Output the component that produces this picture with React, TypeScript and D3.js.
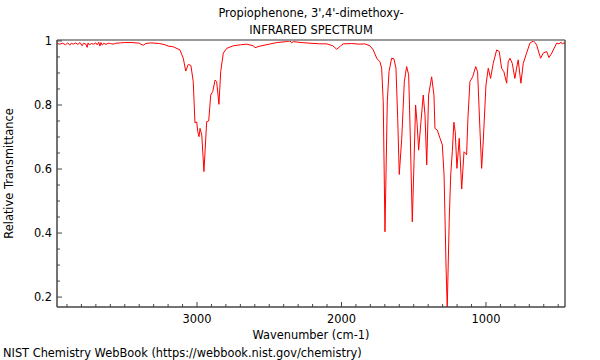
import React from "react";
import * as d3 from "d3";

// wavenumber (cm-1)
const wavenumbers = [
  3969, 3950, 3930, 3910, 3895, 3880, 3870, 3855, 3840, 3825, 3810, 3795, 3785, 3770, 3760, 3754,
  3745, 3730, 3715, 3700, 3690, 3680, 3672, 3665, 3655, 3645, 3630, 3615, 3600, 3580, 3560, 3530,
  3500, 3450, 3400, 3380, 3370, 3355, 3320, 3260, 3220, 3200, 3165, 3118, 3095, 3078, 3060, 3042,
  3026, 3014, 3002, 2995, 2986, 2979, 2967, 2952, 2933, 2919, 2905, 2891, 2875, 2864, 2848, 2836,
  2818, 2794, 2749, 2700, 2656, 2610, 2599, 2564, 2500, 2448, 2380, 2356, 2345, 2334, 2280, 2218,
  2150, 2102, 2060, 2033, 2005, 1988, 1930, 1872, 1840, 1803, 1780, 1756, 1734, 1722, 1711, 1699,
  1683, 1671, 1653, 1637, 1623, 1611, 1600, 1583, 1565, 1549, 1535, 1524, 1510, 1498, 1487, 1476,
  1466, 1450, 1434, 1422, 1410, 1397, 1376, 1360, 1353, 1337, 1318, 1302, 1290, 1276, 1268, 1254,
  1244, 1233, 1222, 1213, 1201, 1185, 1168, 1152, 1141, 1134, 1125, 1111, 1092, 1071, 1058, 1042,
  1030, 1019, 1000, 984, 968, 950, 926, 908, 892, 876, 857, 846, 834, 818, 800, 788,
  777, 765, 758, 742, 719, 696, 673, 660, 649, 622, 604, 580, 564, 545, 511, 495,
  480, 470, 460, 453,
];

const transmittance = [
  0.992, 0.99, 0.993, 0.988, 0.994, 0.987, 0.993, 0.99, 0.994, 0.989, 0.995, 0.985, 0.993, 0.99, 0.98, 0.994,
  0.988, 0.992, 0.99, 0.994, 0.988, 0.996, 0.984, 0.995, 0.987, 0.993, 0.989, 0.993, 0.992, 0.99, 0.993, 0.994,
  0.995, 0.995, 0.993, 0.988, 0.987, 0.992, 0.994, 0.992, 0.988, 0.984, 0.982, 0.972, 0.946, 0.906, 0.927, 0.923,
  0.873, 0.744, 0.747, 0.717, 0.701, 0.727, 0.706, 0.592, 0.748, 0.75, 0.831, 0.842, 0.878, 0.873, 0.802, 0.904,
  0.962, 0.977, 0.985, 0.988, 0.99, 0.985, 0.979, 0.984, 0.99, 0.995, 0.998, 1.0, 0.994, 0.998, 0.995, 0.993,
  0.991, 0.991, 0.985, 0.974, 0.985, 0.991, 0.992, 0.99, 0.991, 0.985, 0.972, 0.946, 0.935, 0.915, 0.81, 0.404,
  0.81, 0.904, 0.946, 0.944, 0.915, 0.758, 0.583, 0.696, 0.873, 0.92, 0.894, 0.706, 0.435, 0.623, 0.8, 0.738,
  0.659, 0.748, 0.831, 0.769, 0.6125, 0.831, 0.888, 0.831, 0.727, 0.722, 0.696, 0.675, 0.581, 0.29, 0.166, 0.447,
  0.581, 0.654, 0.746, 0.717, 0.602, 0.696, 0.5375, 0.654, 0.649, 0.644, 0.758, 0.873, 0.888, 0.92, 0.904, 0.727,
  0.602, 0.685, 0.8625, 0.915, 0.883, 0.93, 0.972, 0.967, 0.915, 0.904, 0.868, 0.935, 0.946, 0.93, 0.883, 0.915,
  0.941, 0.894, 0.868, 0.93, 0.962, 0.993, 1.0, 0.995, 0.987, 0.946, 0.962, 0.967, 0.948, 0.962, 0.993, 0.991,
  0.996, 0.99, 0.995, 0.99,
];

const xTicks = [3000, 2000, 1000];
const yTicks = [0.2, 0.4, 0.6, 0.8, 1];

const W = 600;
const H = 360;
const margin = { top: 40, right: 35, bottom: 53, left: 57 };
const font = "DejaVu Sans, sans-serif";
const fs = 11.4;

const App: React.FC = () => {
  const iw = W - margin.left - margin.right;
  const ih = H - margin.top - margin.bottom;

  const x = d3.scaleLinear().domain([3969, 453]).range([0, iw]);
  const y = d3.scaleLinear().domain([0.169, 1.003]).range([ih, 0]);

  const points = wavenumbers.map((w, i) => [w, transmittance[i]] as [number, number]);
  const line = d3
    .line<[number, number]>()
    .x((d) => x(d[0]))
    .y((d) => y(d[1]));

  const xMinor = d3.range(500, 3901, 100).filter((v) => !xTicks.includes(v));
  const yMinor = d3.range(0.2, 1.0001, 0.05).filter((v) => !yTicks.some((t) => Math.abs(t - v) < 1e-6));

  return (
    <svg width={W} height={H} style={{ position: "absolute", left: 0, top: 0 }}>
      <rect width={W} height={H} fill="white" />
      <text x={margin.left + iw / 2} y={17} textAnchor="middle" fontFamily={font} fontSize={fs}>
        Propiophenone, 3',4'-dimethoxy-
      </text>
      <text x={margin.left + iw / 2} y={34} textAnchor="middle" fontFamily={font} fontSize={fs}>
        INFRARED SPECTRUM
      </text>
      <g transform={`translate(${margin.left},${margin.top})`}>
        <defs>
          <clipPath id="plot-clip">
            <rect width={iw} height={ih} />
          </clipPath>
        </defs>
        <path d={line(points) ?? ""} fill="none" stroke="#ff0000" strokeWidth={1} clipPath="url(#plot-clip)" />

        {/* frame */}
        <line x1={0} x2={iw} y1={0} y2={0} stroke="#999" strokeWidth={2} />
        <line x1={iw} x2={iw} y1={0} y2={ih} stroke="#555" strokeWidth={1.5} />
        <line x1={0} x2={0} y1={0} y2={ih} stroke="#444" strokeWidth={1.5} />
        <line x1={0} x2={iw} y1={ih} y2={ih} stroke="#444" strokeWidth={1.5} />

        {/* x ticks */}
        {xMinor.map((v) => (
          <line key={"xm" + v} x1={x(v)} x2={x(v)} y1={ih} y2={ih - 3} stroke="#444" />
        ))}
        {xTicks.map((v) => (
          <g key={"x" + v}>
            <line x1={x(v)} x2={x(v)} y1={ih} y2={ih - 5} stroke="#444" />
            <text x={x(v)} y={ih + 16} textAnchor="middle" fontFamily={font} fontSize={fs}>
              {v}
            </text>
          </g>
        ))}

        {/* y ticks */}
        {yMinor.map((v) => (
          <line key={"ym" + v} x1={0} x2={3} y1={y(v)} y2={y(v)} stroke="#444" />
        ))}
        {yTicks.map((v) => (
          <g key={"y" + v}>
            <line x1={0} x2={5} y1={y(v)} y2={y(v)} stroke="#444" />
            <text x={-5} y={y(v) + 4} textAnchor="end" fontFamily={font} fontSize={fs}>
              {d3.format("~g")(v)}
            </text>
          </g>
        ))}

        <text x={iw / 2} y={ih + 32} textAnchor="middle" fontFamily={font} fontSize={fs}>
          Wavenumber (cm-1)
        </text>
        <text
          transform={`translate(${-44},${ih / 2}) rotate(-90)`}
          textAnchor="middle"
          fontFamily={font}
          fontSize={fs}
        >
          Relative Transmittance
        </text>
      </g>
      <text x={3} y={357} fontFamily={font} fontSize={fs}>
        NIST Chemistry WebBook (https://webbook.nist.gov/chemistry)
      </text>
    </svg>
  );
};

export default App;
